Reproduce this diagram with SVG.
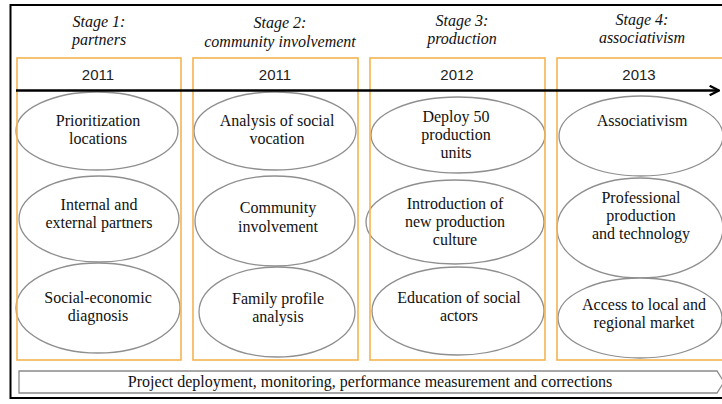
<svg xmlns="http://www.w3.org/2000/svg" width="722" height="404" viewBox="0 0 722 404">
  <style>
    .serif { font-family: "Liberation Serif", "Tinos", "Times New Roman", "DejaVu Serif", serif; }
    .stage { font-style: italic; font-size: 16px; fill: #111; text-anchor: middle; }
    .year { font-family: "Liberation Sans", Arial, sans-serif; font-size: 15px; fill: #222; text-anchor: middle; }
    .col { fill: none; stroke: #f4b350; stroke-width: 1.6; }
    .step { fill: #fff; stroke: #8f8f8f; stroke-width: 1.3; }
    .label { font-size: 16px; fill: #111; text-anchor: middle; }
    .bar { fill: #fff; stroke: #8a8a8a; stroke-width: 1.3; }
    .timeline { stroke: #000; stroke-width: 2.6; fill: none; }
  </style>
  <defs>
    <marker id="openArrow" viewBox="0 0 10 10" refX="9" refY="5" markerWidth="4.5" markerHeight="4.5" orient="auto" markerUnits="strokeWidth">
      <path d="M1,1 L9,5 L1,9" fill="none" stroke="#000" stroke-width="2"/>
    </marker>
  </defs>

  <rect width="722" height="404" fill="#fff"/>
  <!-- outer frame -->
  <rect x="10.5" y="5" width="716" height="393" fill="none" stroke="#000" stroke-width="2"/>

  <g class="serif">
  <!-- stage headings -->
  <g id="stage-1-title">
    <text class="stage" x="99" y="27">Stage 1:</text>
    <text class="stage" x="99" y="45">partners</text>
  </g>
  <g id="stage-2-title">
    <text class="stage" x="280" y="28">Stage 2:</text>
    <text class="stage" x="280" y="47">community involvement</text>
  </g>
  <g id="stage-3-title">
    <text class="stage" x="462" y="26">Stage 3:</text>
    <text class="stage" x="462" y="44">production</text>
  </g>
  <g id="stage-4-title">
    <text class="stage" x="642" y="25">Stage 4:</text>
    <text class="stage" x="642" y="43">associativism</text>
  </g>

  <!-- step ellipses -->
  <g id="prioritization">
    <ellipse class="step" cx="97" cy="131" rx="81" ry="39"/>
    <text class="label" x="98" y="126">Prioritization</text>
    <text class="label" x="98" y="144">locations</text>
  </g>
  <g id="partners">
    <ellipse class="step" cx="99" cy="219" rx="80" ry="43"/>
    <text class="label" x="99" y="210">Internal and</text>
    <text class="label" x="99" y="228">external partners</text>
  </g>
  <g id="diagnosis">
    <ellipse class="step" cx="98" cy="308" rx="82" ry="45"/>
    <text class="label" x="98" y="303">Social-economic</text>
    <text class="label" x="98" y="321">diagnosis</text>
  </g>

  <g id="social-vocation">
    <ellipse class="step" cx="275" cy="131" rx="81" ry="39"/>
    <text class="label" x="277" y="126">Analysis of social</text>
    <text class="label" x="277" y="144">vocation</text>
  </g>
  <g id="community-involvement">
    <ellipse class="step" cx="275" cy="221" rx="80" ry="45"/>
    <text class="label" x="278" y="213">Community</text>
    <text class="label" x="278" y="232">involvement</text>
  </g>
  <g id="family-profile">
    <ellipse class="step" cx="277" cy="312" rx="78" ry="45"/>
    <text class="label" x="278" y="304">Family profile</text>
    <text class="label" x="278" y="322">analysis</text>
  </g>

  <g id="production-units">
    <ellipse class="step" cx="458" cy="135" rx="87" ry="38"/>
    <text class="label" x="456" y="122">Deploy 50</text>
    <text class="label" x="456" y="140">production</text>
    <text class="label" x="456" y="158">units</text>
  </g>
  <g id="production-culture">
    <ellipse class="step" cx="455" cy="222" rx="89" ry="42"/>
    <text class="label" x="455" y="209">Introduction of</text>
    <text class="label" x="455" y="227">new production</text>
    <text class="label" x="455" y="245">culture</text>
  </g>
  <g id="social-actors">
    <ellipse class="step" cx="458" cy="311" rx="86" ry="44"/>
    <text class="label" x="459" y="303">Education of social</text>
    <text class="label" x="459" y="321">actors</text>
  </g>

  <g id="associativism">
    <ellipse class="step" cx="641" cy="136" rx="82" ry="40"/>
    <text class="label" x="642" y="126">Associativism</text>
  </g>
  <g id="professional-production">
    <ellipse class="step" cx="640" cy="228" rx="83" ry="50"/>
    <text class="label" x="641" y="203">Professional</text>
    <text class="label" x="641" y="221">production</text>
    <text class="label" x="641" y="239">and technology</text>
  </g>
  <g id="market-access">
    <ellipse class="step" cx="640" cy="318" rx="82" ry="40"/>
    <text class="label" x="644" y="310">Access to local and</text>
    <text class="label" x="644" y="328">regional market</text>
  </g>

  <!-- continuous monitoring bar -->
  <g id="monitoring-bar">
    <path class="bar" d="M19,371 L717,371 L724,382 L717,393 L19,393 Z"/>
    <text class="label" x="370" y="387">Project deployment, monitoring, performance measurement and corrections</text>
  </g>
  </g>

  <!-- stage columns with their years -->
  <g id="column-2011-a">
    <rect class="col" x="17" y="58" width="164" height="302"/>
    <text class="year" x="98" y="80">2011</text>
  </g>
  <g id="column-2011-b">
    <rect class="col" x="193" y="58" width="165" height="302"/>
    <text class="year" x="275" y="80">2011</text>
  </g>
  <g id="column-2012">
    <rect class="col" x="370" y="58" width="175" height="302"/>
    <text class="year" x="457" y="80">2012</text>
  </g>
  <g id="column-2013">
    <rect class="col" x="557" y="58" width="175" height="302"/>
    <text class="year" x="639" y="80">2013</text>
  </g>

  <!-- timeline connector -->
  <g id="connectors">
    <line class="timeline" x1="16" y1="90.5" x2="719" y2="90.5" marker-end="url(#openArrow)"/>
  </g>
</svg>
